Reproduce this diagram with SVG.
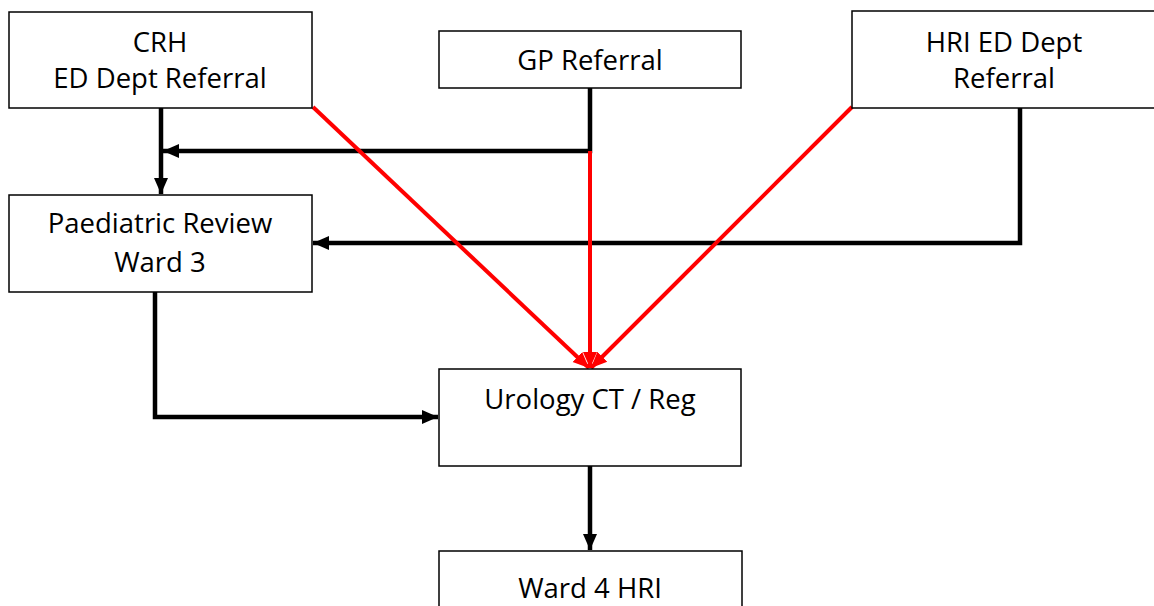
<svg xmlns="http://www.w3.org/2000/svg" width="1154" height="606" viewBox="0 0 1154 606">
<style>
.box{fill:#fff;stroke:#000;stroke-width:1.5}
.t{font-family:"Open Sans","Liberation Sans",sans-serif;font-size:27.5px;fill:#000;text-anchor:middle}
.k{fill:none;stroke:#000;stroke-width:4.5}
.r{fill:none;stroke:#f00;stroke-width:4}
</style>
<defs>
<marker id="ak" markerUnits="userSpaceOnUse" markerWidth="18" markerHeight="18" viewBox="0 0 18 18" refX="16" refY="9" orient="auto"><path d="M0,2 L16,9 L0,16 Z" fill="#000"/></marker>
<marker id="ar" markerUnits="userSpaceOnUse" markerWidth="18" markerHeight="18" viewBox="0 0 18 18" refX="16" refY="9" orient="auto"><path d="M0,2 L16,9 L0,16 Z" fill="#f00"/></marker>
</defs>
<rect width="1154" height="606" fill="#fff"/>
<g id="connectors">
<path class="k" d="M161,108 V194" marker-end="url(#ak)"/>
<path class="k" d="M590,88 V151 H163" marker-end="url(#ak)"/>
<path class="k" d="M1020,108 V243 H313" marker-end="url(#ak)"/>
<path class="k" d="M155,292 V417 H438" marker-end="url(#ak)"/>
<path class="k" d="M590,466 V550" marker-end="url(#ak)"/>
<path class="r" d="M590,151 V368" marker-end="url(#ar)"/>
<path class="r" d="M313,107 L589,368" marker-end="url(#ar)"/>
<path class="r" d="M852,107 L591,368" marker-end="url(#ar)"/>
</g>
<g id="crh"><rect class="box" x="9" y="12" width="303" height="96"/><text class="t" x="160" y="52">CRH</text><text class="t" x="160" y="88">ED Dept Referral</text></g>
<g id="gp"><rect class="box" x="439" y="31" width="302" height="57"/><text class="t" x="590" y="70">GP Referral</text></g>
<g id="hri"><rect class="box" x="852" y="11" width="310" height="97"/><text class="t" x="1004" y="52">HRI ED Dept</text><text class="t" x="1004" y="88">Referral</text></g>
<g id="paed"><rect class="box" x="9" y="195" width="303" height="97"/><text class="t" x="160" y="233">Paediatric Review</text><text class="t" x="160" y="272">Ward 3</text></g>
<g id="urology"><rect class="box" x="439" y="369" width="302" height="97"/><text class="t" x="590" y="409">Urology CT / Reg</text></g>
<g id="ward4"><rect class="box" x="439" y="551" width="303" height="70"/><text class="t" x="590" y="598">Ward 4 HRI</text></g>
</svg>
